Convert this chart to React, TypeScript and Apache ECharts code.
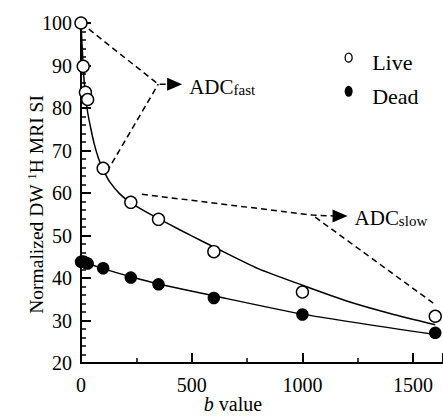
import React, { useEffect, useRef } from "react";
import * as echarts from "echarts";

const FONT = "'Liberation Serif', 'Times New Roman', 'DejaVu Serif', serif";

// measured points
const liveB = [0, 10, 20, 30, 100, 225, 350, 600, 1000, 1600];
const liveSI = [100, 89.8, 83.7, 82, 65.8, 57.8, 53.8, 46.2, 36.7, 31.0];
const deadB = [0, 10, 20, 30, 100, 225, 350, 600, 1000, 1600];
const deadSI = [43.8, 43.9, 43.6, 43.4, 42.3, 40.1, 38.5, 35.3, 31.4, 27.1];

// fitted curves
const liveFitB = [0, 10, 20, 30, 45, 60, 80, 100, 130, 175, 225, 300, 400, 500, 600, 800, 1000, 1200, 1400, 1600];
const liveFitSI = [100, 89.5, 83, 79, 75, 71.5, 68, 65.5, 62.6, 59.8, 57.7, 55.4, 52.6, 49.9, 47.3, 42.2, 38.3, 34.6, 31.6, 29.0];
const deadFitB = [0, 100, 225, 350, 600, 1000, 1600];
const deadFitSI = [44, 42.2, 40.3, 38.6, 35.8, 31.5, 26.7];

// annotation dashed paths [b, SI]
const fastUpper = [[0, 100], [349, 85.6], [392, 85.6]];
const fastLower = [[117, 65], [349, 85.6]];
const slowUpper = [[275, 59.7], [1045, 54.8], [1140, 54.6]];
const slowLower = [[1591, 34.1], [1045, 54.8]];
const arrowB = [423, 1170];
const arrowSI = [85.6, 54.6];
const arrowLabels = ["fast", "slow"];

const xTicks = { min: 0, max: 1635, interval: 500 };
const yTicks = { min: 20, max: 100, interval: 10 };

export default function App() {
  const ref = useRef<HTMLDivElement>(null);
  useEffect(() => {
    if (!ref.current) return;
    const chart = echarts.init(ref.current, undefined, { renderer: "svg" });
    const zip = (a: number[], b: number[]) => a.map((v, i) => [v, b[i]]);
    const txt = { fontFamily: FONT, color: "#000" };
    chart.setOption({
      animation: false,
      backgroundColor: "#fff",
      textStyle: { fontFamily: FONT },
      grid: { left: 81, top: 23, right: 0, height: 340, outerBoundsMode: "none", containLabel: false },
      legend: {
        orient: "vertical",
        left: 338,
        top: 46,
        itemWidth: 37,
        itemHeight: 22,
        itemGap: 11,
        textStyle: { ...txt, fontSize: 22 },
        data: [
          {
            name: "Live",
            icon: "path://M-5,-6M5,16M-3.5,0A3.5,4.5,0,1,1,3.5,0A3.5,4.5,0,1,1,-3.5,0Z",
            itemStyle: { color: "#fff", borderColor: "#000", borderWidth: 1.3, opacity: 1 },
          },
          {
            name: "Dead",
            icon: "path://M-5,-6M5,16M-4,0A4,5.5,0,1,1,4,0A4,5.5,0,1,1,-4,0Z",
            itemStyle: { color: "#000", borderWidth: 0, opacity: 1 },
          },
        ],
      },
      xAxis: {
        type: "value",
        ...xTicks,
        splitLine: { show: false },
        axisLine: { lineStyle: { color: "#000", width: 2 } },
        axisTick: { inside: true, length: 10, lineStyle: { color: "#000", width: 2 } },
        minorTick: { show: true, splitNumber: 2, length: 5, lineStyle: { color: "#000", width: 1.5 } },
        axisLabel: {
          ...txt,
          fontSize: 20,
          margin: 12,
          showMaxLabel: false,
          formatter: (v: number) => String(v),
        },
        name: "{i|b}{n| value}",
        nameLocation: "middle",
        nameMoveOverlap: false,
        nameGap: 31,
        nameTextStyle: {
          ...txt,
          fontSize: 20,
          padding: [0, 58, 0, 0],
          rich: {
            i: { fontFamily: FONT, fontSize: 20, fontStyle: "italic", color: "#000" },
            n: { fontFamily: FONT, fontSize: 20, color: "#000" },
          },
        },
      },
      yAxis: {
        type: "value",
        ...yTicks,
        splitLine: { show: false },
        axisLine: { lineStyle: { color: "#000", width: 2 } },
        axisTick: { inside: true, length: 10, lineStyle: { color: "#000", width: 2 } },
        minorTick: { show: true, splitNumber: 5, length: 5, lineStyle: { color: "#000", width: 1.5 } },
        axisLabel: {
          ...txt,
          fontSize: 20,
          margin: 9,
          formatter: (v: number) => String(v),
        },
        name: "{n|Normalized DW }{sup|1}{n|H MRI SI}",
        nameLocation: "middle",
        nameMoveOverlap: false,
        nameRotate: 90,
        nameGap: 34,
        nameTextStyle: {
          ...txt,
          fontSize: 19.5,
          padding: [0, 23, 0, 0],
          rich: {
            n: { fontFamily: FONT, fontSize: 19.5, lineHeight: 22, color: "#000" },
            sup: { fontFamily: FONT, fontSize: 13, lineHeight: 14, verticalAlign: "top", color: "#000" },
          },
        },
      },
      series: [
        {
          name: "Live fit",
          type: "line",
          data: zip(liveFitB, liveFitSI),
          smooth: 0.2,
          symbol: "none",
          lineStyle: { color: "#000", width: 1.5 },
          z: 2,
        },
        {
          name: "Dead fit",
          type: "line",
          data: zip(deadFitB, deadFitSI),
          smooth: 0.2,
          symbol: "none",
          lineStyle: { color: "#000", width: 1.5 },
          z: 2,
        },
        {
          name: "annotations",
          type: "lines",
          coordinateSystem: "cartesian2d",
          polyline: true,
          symbol: "none",
          lineStyle: { color: "#000", width: 1.5, type: [6, 4], opacity: 1 },
          data: [fastUpper, fastLower, slowUpper, slowLower].map((c) => ({ coords: c })),
          z: 1,
        },
        {
          name: "arrows",
          type: "scatter",
          symbol: "triangle",
          symbolSize: [13, 15],
          symbolRotate: -90,
          itemStyle: { color: "#000", opacity: 1 },
          data: zip(arrowB, arrowSI),
          label: {
            show: true,
            position: "right",
            distance: 7,
            offset: [0, 2],
            formatter: (p: any) => `{a|ADC}{s|${arrowLabels[p.dataIndex]}}`,
            rich: {
              a: { fontFamily: FONT, fontSize: 21, lineHeight: 22, verticalAlign: "bottom", color: "#000" },
              s: { fontFamily: FONT, fontSize: 15, lineHeight: 10, verticalAlign: "bottom", color: "#000" },
            },
          },
          z: 3,
        },
        {
          name: "Dead",
          type: "scatter",
          symbol: "circle",
          symbolSize: 12.5,
          itemStyle: { color: "#000", opacity: 1 },
          data: zip(deadB, deadSI),
          z: 4,
        },
        {
          name: "Live",
          type: "scatter",
          symbol: "circle",
          symbolSize: 12,
          itemStyle: { color: "#fff", borderColor: "#000", borderWidth: 1.4, opacity: 1 },
          data: zip(liveB, liveSI),
          z: 5,
        },
      ],
    });
    return () => chart.dispose();
  }, []);
  return (
    <div
      ref={ref}
      style={{ position: "fixed", left: 0, top: 0, width: 443, height: 417, background: "#fff" }}
    />
  );
}
